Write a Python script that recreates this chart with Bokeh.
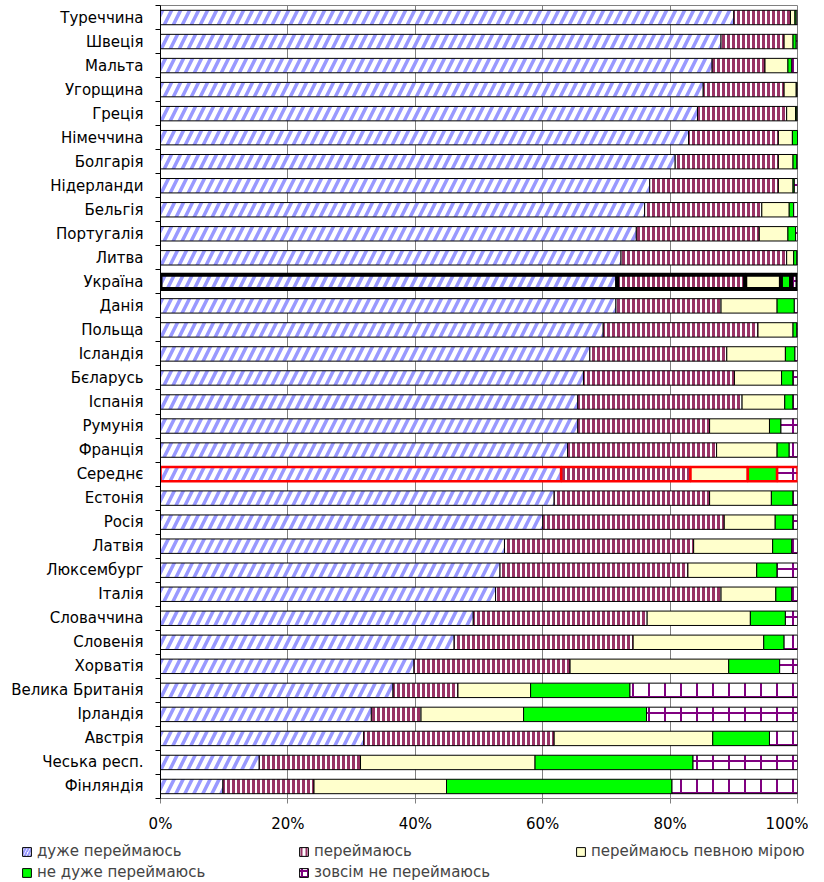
from bokeh.plotting import figure
from bokeh.layouts import column, row
from bokeh.models import ColumnDataSource, FixedTicker, Legend, LegendItem, Range1d
from bokeh.embed import file_html
from bokeh.resources import INLINE

countries = ["Туреччина", "Швеція", "Мальта", "Угорщина", "Греція", "Німеччина",
             "Болгарія", "Нідерланди", "Бельгія", "Португалія", "Литва", "Україна",
             "Данія", "Польща", "Ісландія", "Бєларусь", "Іспанія", "Румунія",
             "Франція", "Середнє", "Естонія", "Росія", "Латвія", "Люксембург",
             "Італія", "Словаччина", "Словенія", "Хорватія", "Велика Британія",
             "Ірландія", "Австрія", "Чеська респ.", "Фінляндія"]

series_names = ["дуже переймаюсь", "переймаюсь", "переймаюсь певною мірою",
                "не дуже переймаюсь", "зовсім не переймаюсь"]

very_concerned = [90.0, 88.0, 86.6, 85.2, 84.3, 82.9, 80.8, 76.8, 76.0, 74.7, 72.3, 71.7,
                  71.5, 69.5, 67.4, 66.4, 65.5, 65.5, 63.9, 62.9, 61.8, 60.0, 54.0, 53.3,
                  52.6, 49.1, 46.1, 39.8, 36.5, 33.1, 31.9, 15.5, 9.8]
concerned = [8.9, 9.9, 8.3, 12.7, 14.0, 14.1, 16.2, 20.2, 18.4, 19.3, 26.0, 20.1,
             16.5, 24.3, 21.5, 23.7, 25.8, 20.7, 23.4, 20.3, 24.4, 28.5, 29.7, 29.5,
             35.4, 27.3, 28.1, 24.5, 10.2, 7.8, 29.9, 15.9, 14.3]
somewhat = [0.7, 1.4, 3.6, 1.9, 1.4, 2.2, 2.3, 2.3, 4.3, 4.5, 1.1, 5.6,
            8.8, 5.5, 9.2, 7.4, 6.7, 9.4, 9.5, 9.0, 9.7, 8.0, 12.4, 10.8,
            8.6, 16.2, 20.5, 24.9, 11.4, 16.1, 24.9, 27.4, 20.8]
not_very = [0.2, 0.5, 0.6, 0.1, 0.2, 0.8, 0.6, 0.2, 0.7, 1.2, 0.5, 1.6,
            2.7, 0.6, 1.5, 1.8, 1.3, 1.8, 1.9, 4.6, 3.4, 2.8, 3.0, 3.2,
            2.5, 5.5, 3.2, 8.0, 15.6, 19.3, 8.9, 24.8, 35.4]
not_at_all = [0.2, 0.2, 0.9, 0.1, 0.1, 0.0, 0.1, 0.5, 0.6, 0.3, 0.1, 1.0,
              0.5, 0.1, 0.4, 0.7, 0.7, 2.6, 1.3, 3.2, 0.7, 0.7, 0.9, 3.2,
              0.9, 1.9, 2.1, 2.8, 26.3, 23.7, 4.4, 16.4, 19.7]

x_ticks = [0, 20, 40, 60, 80, 100]
x_tick_labels = ["0%", "20%", "40%", "60%", "80%", "100%"]

FONT = "DejaVu Sans"
FS = "15px"
N = len(countries)
ys = [N - i - 0.5 for i in range(N)]
line_colors = ["#000000"] * N
line_widths = [1.0] * N
line_widths[countries.index("Україна")] = 4.0
line_colors[countries.index("Середнє")] = "#FF0000"
line_widths[countries.index("Середнє")] = 2.5

fills = ["white", "white", "#FFFFCC", "#00FF00", "white"]
patterns = ["/", "|", None, None, "+"]
hcolors = ["#9999FF", "#993366", "#FFFFCC", "#00FF00", "#800080"]
hweights = [3.5, 3, 1, 1, 2]
hscales = [18, 5, 8, 8, 16]

keys = ["s1", "s2", "s3", "s4", "s5"]
src = ColumnDataSource(dict(y=ys, s1=very_concerned, s2=concerned, s3=somewhat,
                            s4=not_very, s5=not_at_all, lc=line_colors, lw=line_widths))

p = figure(frame_width=637, frame_height=793, output_backend="svg", toolbar_location=None,
           x_range=Range1d(0, 100), y_range=Range1d(0, N),
           min_border_left=160, min_border_right=11, min_border_top=5, min_border_bottom=34)
p.background_fill_color = "white"
p.border_fill_color = "white"
p.outline_line_color = "#808080"

renderers = p.hbar_stack(
    keys, y="y", height=0.6, source=src,
    fill_color=fills, hatch_pattern=patterns, hatch_color=hcolors,
    hatch_weight=hweights, hatch_scale=hscales,
    line_color="lc", line_width="lw",
)

# x axis
p.xaxis.ticker = FixedTicker(ticks=x_ticks)
p.xaxis.major_label_overrides = {t: l for t, l in zip(x_ticks, x_tick_labels)}
p.xaxis.axis_line_color = "#808080"
p.xaxis.major_tick_line_color = "#808080"
p.xaxis.major_tick_out = 5
p.xaxis.major_tick_in = 0
p.xaxis.minor_tick_line_color = None
p.xaxis.major_label_standoff = 11
p.xaxis.major_label_text_font = FONT
p.xaxis.major_label_text_font_size = FS
p.xaxis.major_label_text_color = "black"

# y axis: labels at centers, tick marks at boundaries
p.yaxis.ticker = FixedTicker(ticks=ys, minor_ticks=list(range(N + 1)))
p.yaxis.major_label_overrides = {y: c for y, c in zip(ys, countries)}
p.yaxis.axis_line_color = "black"
p.yaxis.major_tick_out = 0
p.yaxis.major_tick_in = 0
p.yaxis.minor_tick_out = 5
p.yaxis.minor_tick_in = 0
p.yaxis.minor_tick_line_color = "black"
p.yaxis.major_label_standoff = 12
p.yaxis.major_label_text_font = FONT
p.yaxis.major_label_text_font_size = FS
p.yaxis.major_label_text_color = "black"

p.xgrid.ticker = FixedTicker(ticks=x_ticks)
p.xgrid.grid_line_color = "#808080"
p.ygrid.grid_line_color = None

# legend in its own strip below the chart (proxy glyphs lie outside its visible range)
lf = figure(width=808, height=48, output_backend="svg", toolbar_location=None,
            x_range=Range1d(0, 1), y_range=Range1d(0, 1),
            min_border_left=0, min_border_right=0, min_border_top=0, min_border_bottom=0,
            x_axis_type=None, y_axis_type=None)
lf.outline_line_color = None
lf.xgrid.grid_line_color = None
lf.ygrid.grid_line_color = None
proxy = ColumnDataSource(dict(y=[-5], right=[0]))
items = []
for name, fc, hp, hc, hw, hs in zip(series_names, fills, patterns, hcolors, hweights, hscales):
    r = lf.hbar(y="y", right="right", height=0.5, source=proxy, fill_color=fc,
                hatch_pattern=hp, hatch_color=hc, hatch_weight=min(hw, 2), hatch_scale=min(hs, 6),
                line_color="black", line_width=1)
    items.append(LegendItem(label=name, renderers=[r]))

legend = Legend(items=items, orientation="horizontal", ncols=3, location=(21, 2),
                padding=0, margin=0, spacing=3, label_standoff=5,
                glyph_width=11, glyph_height=11, label_height=16, label_width=258,
                border_line_alpha=0, background_fill_alpha=0,
                label_text_font=FONT, label_text_font_size=FS)
lf.add_layout(legend, "center")

layout = column(p, row(lf), spacing=0)
open("out.html", "w").write(file_html(layout, INLINE))
